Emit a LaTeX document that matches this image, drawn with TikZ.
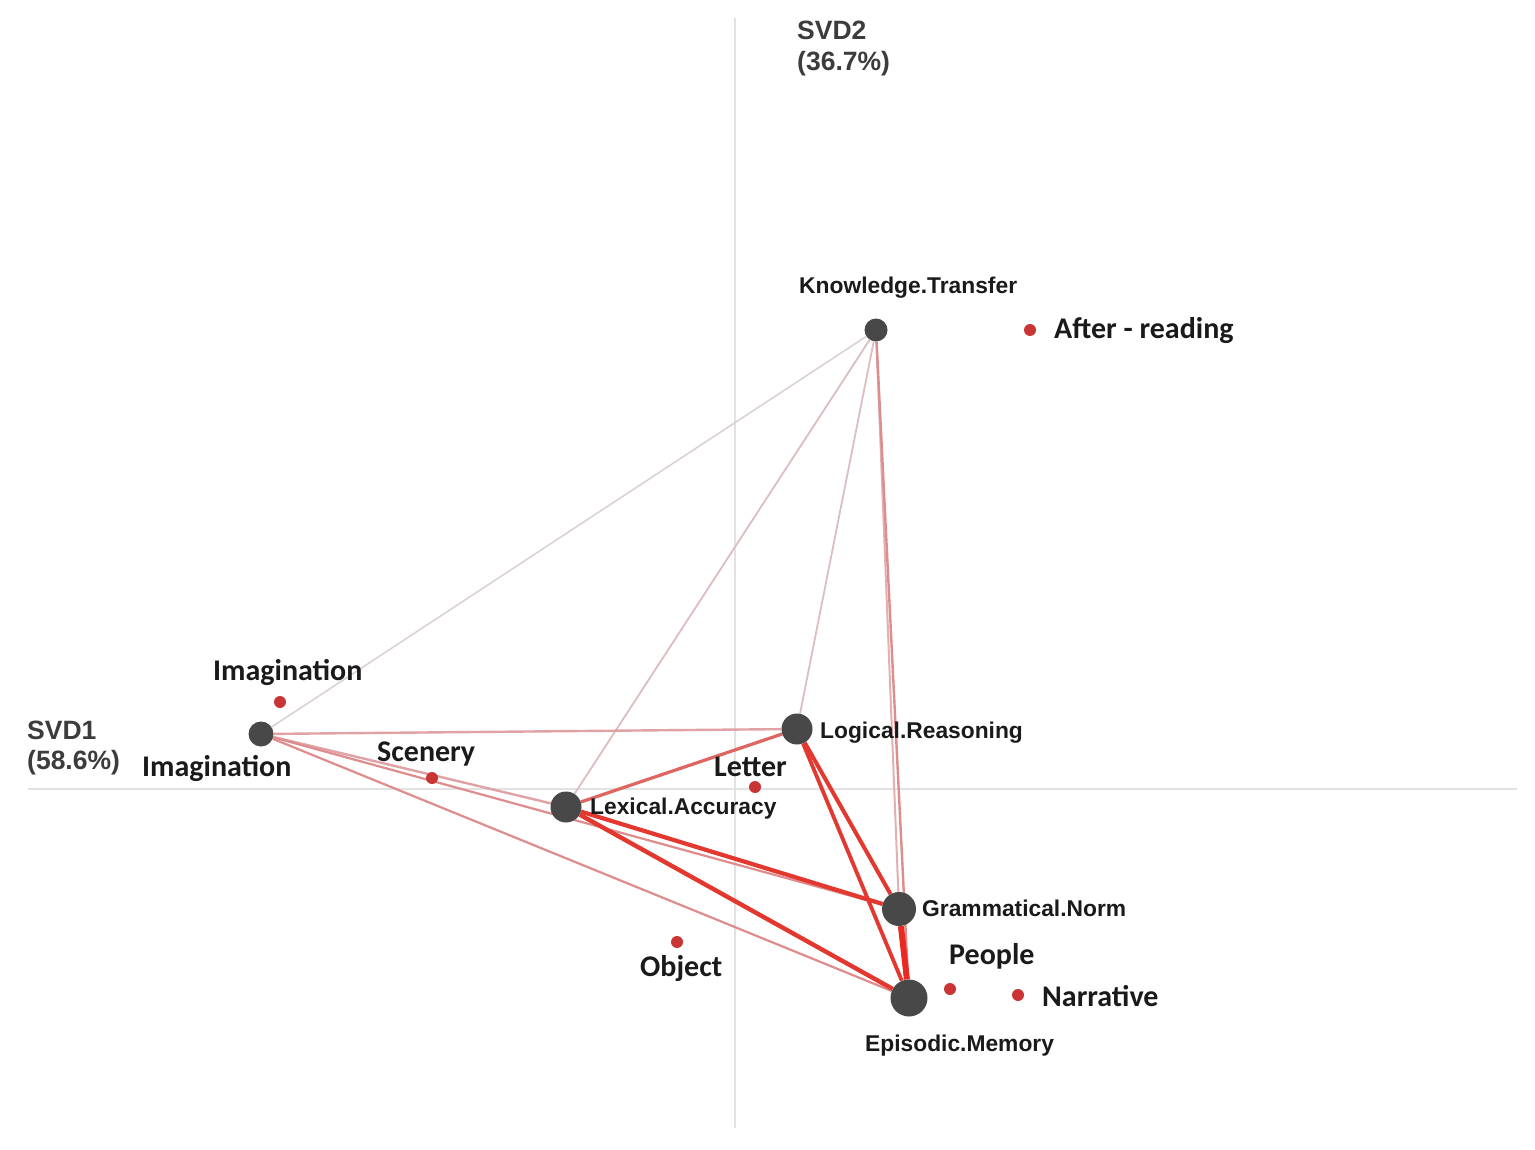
\documentclass[tikz,border=0pt]{standalone}
\usepackage{fontspec}
\setmainfont{Liberation Sans}
\newfontfamily\carlfont{Carlito}
\usetikzlibrary{backgrounds}
\pgfdeclarelayer{bottom}
\pgfsetlayers{bottom,background,main}
\definecolor{nodegray}{HTML}{484848}
\definecolor{dotred}{HTML}{C93535}
\definecolor{axisgray}{HTML}{E2E2E2}
\definecolor{txt}{HTML}{1A1A1A}
\definecolor{svdgray}{HTML}{3C3C3C}
\definecolor{eA}{HTML}{DCD2D2}
\definecolor{eB}{HTML}{DDBEC0}
\definecolor{eC}{HTML}{E2B0B2}
\definecolor{eD}{HTML}{DE8C8C}
\definecolor{eE}{HTML}{E0A2A4}
\definecolor{eF}{HTML}{DF6560}
\definecolor{eG}{HTML}{E2382F}
\definecolor{eH}{HTML}{E82A20}
\tikzset{
  hub/.style={circle, fill=nodegray, draw=none, inner sep=0pt, minimum size=#1},
  catdot/.style={circle, fill=dotred, draw=none, inner sep=0pt, minimum size=12pt},
  nlabel/.style={anchor=base west, inner sep=0pt, text=txt, font=\fontsize{22.8}{26}\selectfont\bfseries},
  clabel/.style={anchor=base west, inner sep=0pt, text=txt, font=\carlfont\fontsize{30}{34}\selectfont\bfseries},
  svdlabel/.style={anchor=base west, inner sep=0pt, text=svdgray, font=\fontsize{26.5}{31}\selectfont\bfseries, align=left},
  axisline/.style={draw=axisgray, line width=1.5pt},
  edge/.style={line width=#1}
}
\begin{document}
\begin{tikzpicture}[x=1pt,y=-1pt]
\useasboundingbox (0,0) rectangle (1535,1150);
\begin{pgfonlayer}{bottom}
\fill[white] (0,0) rectangle (1535,1150);
\end{pgfonlayer}

% axis end points
\coordinate (vtop) at (735,18);
\coordinate (vbot) at (735,1128);
\coordinate (hleft) at (28,789);
\coordinate (hright) at (1517,789);

% hub nodes
\node[hub=23pt] (kt) at (876,330) {};
\node[hub=25pt] (im) at (261,734) {};
\node[hub=31pt] (lex) at (566,807) {};
\node[hub=31pt] (log) at (797,729) {};
\node[hub=34pt] (gram) at (899,909) {};
\node[hub=37pt] (epi) at (909,998) {};

% category dots
\node[catdot] (after) at (1030,330) {};
\node[catdot] (imagc) at (280,702) {};
\node[catdot] (scen) at (432,778) {};
\node[catdot] (lett) at (755,787) {};
\node[catdot] (obj) at (677,942) {};
\node[catdot] (peop) at (950,989) {};
\node[catdot] (narr) at (1018,995) {};

\begin{scope}[on background layer]
  \draw[axisline] (vtop) -- (vbot);
  \draw[axisline] (hleft) -- (hright);
  % edges
  \draw[eA, edge=1.6pt] (kt) -- (im);
  \draw[eB, edge=1.8pt] (kt) -- (lex);
  \draw[eB, edge=1.8pt] (kt) -- (log);
  \draw[eC, edge=2pt] (kt) -- (gram);
  \draw[eD, edge=2.4pt] (kt) -- (epi);
  \draw[eE, edge=2.4pt] (im) -- (log);
  \draw[eE, edge=2.4pt] (im) -- (lex);
  \draw[eD, edge=2.2pt] (im) -- (gram);
  \draw[eD, edge=2.2pt] (im) -- (epi);
  \draw[eF, edge=3.2pt] (lex) -- (log);
  \draw[eG, edge=4.2pt] (lex) -- (gram);
  \draw[eG, edge=4.4pt] (lex) -- (epi);
  \draw[eG, edge=4pt] (log) -- (gram);
  \draw[eG, edge=3.8pt] (log) -- (epi);
  \draw[eH, edge=6pt] (gram) -- (epi);
\end{scope}

% hub labels
\node[nlabel] (ktl) at (799,294) {Knowledge.Transfer};
\node[nlabel] (logl) at (820,738) {Logical.Reasoning};
\node[nlabel] (lexl) at (590,814) {Lexical.Accuracy};
\node[nlabel] (graml) at (922,916) {Grammatical.Norm};
\node[nlabel] (epil) at (865,1051) {Episodic.Memory};
\node[clabel] (iml) at (142,776) {Imagination};

% category labels
\node[clabel] (afterl) at (1054,339) {After - reading};
\node[clabel] (imagcl) at (213,680) {Imagination};
\node[clabel] (scenl) at (377,761) {Scenery};
\node[clabel] (lettl) at (714,776) {Letter};
\node[clabel] (objl) at (640,976) {Object};
\node[clabel] (peopl) at (949,964) {People};
\node[clabel] (narrl) at (1042,1006) {Narrative};

% axis labels
\node[svdlabel] (svd2a) at (797,40) {SVD2};
\node[svdlabel] (svd2b) at (797,71) {(36.7\%)};
\node[svdlabel] (svd1a) at (27,739) {SVD1};
\node[svdlabel] (svd1b) at (27,769) {(58.6\%)};
\end{tikzpicture}
\end{document}
